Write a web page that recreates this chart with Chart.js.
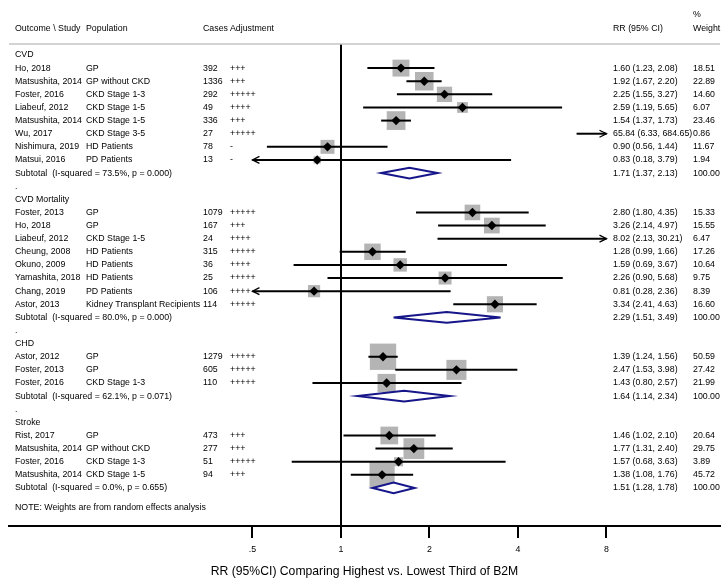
<!DOCTYPE html>
<html>
<head>
<meta charset="utf-8">
<script src="https://cdn.jsdelivr.net/npm/chart.js@4"></script>
<style>
  body { margin: 0; background: #fff; }
  canvas { display: block; }
</style>
</head>
<body>
<canvas id="forest-canvas" width="721" height="581"></canvas>
<script>
// one entry per table row: group header, study, subtotal or spacer
let rowKind = ['head','study','study','study','study','study','study','study','study','sub','gap',
               'head','study','study','study','study','study','study','study','study','sub','gap',
               'head','study','study','study','sub','gap',
               'head','study','study','study','study','sub'];
let rowLabel = ['CVD','Ho, 2018','Matsushita, 2014','Foster, 2016','Liabeuf, 2012','Matsushita, 2014','Wu, 2017','Nishimura, 2019','Matsui, 2016','Subtotal  (I-squared = 73.5%, p = 0.000)','.',
                'CVD Mortality','Foster, 2013','Ho, 2018','Liabeuf, 2012','Cheung, 2008','Okuno, 2009','Yamashita, 2018','Chang, 2019','Astor, 2013','Subtotal  (I-squared = 80.0%, p = 0.000)','.',
                'CHD','Astor, 2012','Foster, 2013','Foster, 2016','Subtotal  (I-squared = 62.1%, p = 0.071)','.',
                'Stroke','Rist, 2017','Matsushita, 2014','Foster, 2016','Matsushita, 2014','Subtotal  (I-squared = 0.0%, p = 0.655)'];
let population = ['','GP','GP without CKD','CKD Stage 1-3','CKD Stage 1-5','CKD Stage 1-5','CKD Stage 3-5','HD Patients','PD Patients','','',
                  '','GP','GP','CKD Stage 1-5','HD Patients','HD Patients','HD Patients','PD Patients','Kidney Transplant Recipients','','',
                  '','GP','GP','CKD Stage 1-3','','',
                  '','GP','GP without CKD','CKD Stage 1-3','CKD Stage 1-5',''];
let cases = ['','392','1336','292','49','336','27','78','13','','',
             '','1079','167','24','315','36','25','106','114','','',
             '','1279','605','110','','',
             '','473','277','51','94',''];
let adjustment = ['','+++','+++','+++++','++++','+++','+++++','-','-','','',
                  '','+++++','+++','++++','+++++','++++','+++++','++++','+++++','','',
                  '','+++++','+++++','+++++','','',
                  '','+++','+++','+++++','+++',''];
let rr = [null,1.60,1.92,2.25,2.59,1.54,65.84,0.90,0.83,1.71,null,
          null,2.80,3.26,8.02,1.28,1.59,2.26,0.81,3.34,2.29,null,
          null,1.39,2.47,1.43,1.64,null,
          null,1.46,1.77,1.57,1.38,1.51];
let lower = [null,1.23,1.67,1.55,1.19,1.37,6.33,0.56,0.18,1.37,null,
             null,1.80,2.14,2.13,0.99,0.69,0.90,0.28,2.41,1.51,null,
             null,1.24,1.53,0.80,1.14,null,
             null,1.02,1.31,0.68,1.08,1.28];
let upper = [null,2.08,2.20,3.27,5.65,1.73,684.65,1.44,3.79,2.13,null,
             null,4.35,4.97,30.21,1.66,3.67,5.68,2.36,4.63,3.49,null,
             null,1.56,3.98,2.57,2.34,null,
             null,2.10,2.40,3.63,1.76,1.78];
let weight = [null,18.51,22.89,14.60,6.07,23.46,0.86,11.67,1.94,100.00,null,
              null,15.33,15.55,6.47,17.26,10.64,9.75,8.39,16.60,100.00,null,
              null,50.59,27.42,21.99,100.00,null,
              null,20.64,29.75,3.89,45.72,100.00];
let note = 'NOTE: Weights are from random effects analysis';

let xTicks      = [0.5, 1, 2, 4, 8];
let xTickLabels = ['.5', '1', '2', '4', '8'];
let ciRange     = [0.5, 8];          // CIs are clipped (with arrows) to this range
let xTitle      = 'RR (95%CI) Comparing Highest vs. Lowest Third of B2M';

let FONT = '"Liberation Sans", Arial, Helvetica, sans-serif';
let NAVY = '#16168a';

// markers for studies whose estimate lies inside the plotted range
let boxPoints = [], boxRadius = [], dotPoints = [];
rowKind.forEach((k, i) => {
  if (k !== 'study') return;
  if (rr[i] < ciRange[0] || rr[i] > ciRange[1]) return;
  let side = 2.5 + 3.35 * Math.sqrt(weight[i]);
  boxPoints.push({x: rr[i], y: i});
  boxRadius.push(side / Math.SQRT2);
  dotPoints.push({x: rr[i], y: i});
});

function fmt(v) { return v.toFixed(2); }

let forestPlugin = {
  id: 'forest',
  afterDatasetDraw(chart, args) {
    if (args.index !== 0) return;
    // confidence intervals, drawn over the weight boxes
    let ctx = chart.ctx, xs = chart.scales.x, ys = chart.scales.y;
    ctx.save();
    ctx.strokeStyle = '#000';
    rowKind.forEach((k, i) => {
      if (k !== 'study') return;
      let y = ys.getPixelForValue(i);
      let x1 = xs.getPixelForValue(Math.max(lower[i], ciRange[0]));
      let x2 = xs.getPixelForValue(Math.min(upper[i], ciRange[1]));
      ctx.lineWidth = 2;
      ctx.beginPath(); ctx.moveTo(x1, y); ctx.lineTo(x2, y); ctx.stroke();
      ctx.lineWidth = 1.3;
      if (lower[i] < ciRange[0]) {
        ctx.beginPath(); ctx.moveTo(x1 + 7, y - 3.5); ctx.lineTo(x1, y); ctx.lineTo(x1 + 7, y + 3.5); ctx.stroke();
      }
      if (upper[i] > ciRange[1]) {
        ctx.beginPath(); ctx.moveTo(x2 - 7, y - 3.5); ctx.lineTo(x2, y); ctx.lineTo(x2 - 7, y + 3.5); ctx.stroke();
      }
    });
    ctx.restore();
  },
  afterDatasetsDraw(chart) {
    // pooled estimates as hollow diamonds
    let ctx = chart.ctx, xs = chart.scales.x, ys = chart.scales.y;
    ctx.save();
    ctx.strokeStyle = NAVY;
    ctx.fillStyle = '#fff';
    ctx.lineWidth = 2;
    ctx.lineJoin = 'miter';
    rowKind.forEach((k, i) => {
      if (k !== 'sub') return;
      let y = ys.getPixelForValue(i);
      let xl = xs.getPixelForValue(lower[i]);
      let xm = xs.getPixelForValue(rr[i]);
      let xh = xs.getPixelForValue(upper[i]);
      ctx.beginPath();
      ctx.moveTo(xl, y); ctx.lineTo(xm, y - 5.3); ctx.lineTo(xh, y); ctx.lineTo(xm, y + 5.3);
      ctx.closePath();
      ctx.fill(); ctx.stroke();
    });
    ctx.restore();
  },
  afterDraw(chart) {
    let ctx = chart.ctx, ys = chart.scales.y, area = chart.chartArea;
    ctx.save();
    // header rule
    ctx.strokeStyle = '#c4c4c4';
    ctx.lineWidth = 1.6;
    ctx.beginPath(); ctx.moveTo(area.left, area.top); ctx.lineTo(area.right, area.top); ctx.stroke();

    ctx.fillStyle = '#000';
    ctx.font = '8.8px ' + FONT;
    ctx.textBaseline = 'middle';
    ctx.textAlign = 'left';
    let hy = ys.getPixelForValue(-2);
    ctx.fillText('Outcome \\ Study', 15, hy);
    ctx.fillText('Population', 86, hy);
    ctx.fillText('Cases', 203, hy);
    ctx.fillText('Adjustment', 230, hy);
    ctx.fillText('RR (95% CI)', 613, hy);
    ctx.fillText('Weight', 693, hy);
    ctx.fillText('%', 693, ys.getPixelForValue(-3.07));

    rowKind.forEach((k, i) => {
      let y = ys.getPixelForValue(i);
      ctx.fillText(rowLabel[i], 15, y);
      if (k === 'study') {
        ctx.fillText(population[i], 86, y);
        ctx.fillText(cases[i], 203, y);
        ctx.fillText(adjustment[i], 230, y);
      }
      if (k === 'study' || k === 'sub') {
        ctx.fillText(fmt(rr[i]) + ' (' + fmt(lower[i]) + ', ' + fmt(upper[i]) + ')', 613, y);
        ctx.fillText(fmt(weight[i]), 693, y);
      }
    });
    ctx.fillText(note, 15, ys.getPixelForValue(rowKind.length + 0.5));
    ctx.restore();
  }
};

let ctx = document.getElementById('forest-canvas').getContext('2d');
window.forest = new Chart(ctx, {
  type: 'scatter',
  data: {
    datasets: [
      {
        label: 'weight',
        data: boxPoints,
        pointStyle: 'rect',
        pointRadius: boxRadius,
        backgroundColor: '#b4b4b4',
        borderWidth: 0,
        order: 2
      },
      {
        label: 'estimate',
        data: dotPoints,
        pointStyle: 'rectRot',
        pointRadius: 4.7,
        backgroundColor: '#000',
        borderWidth: 0,
        order: 1
      }
    ]
  },
  options: {
    responsive: false,
    animation: false,
    devicePixelRatio: 1,
    layout: { autoPadding: false, padding: { left: 9, right: 1, top: 44, bottom: 0 } },
    plugins: {
      legend: { display: false },
      tooltip: { enabled: false }
    },
    scales: {
      x: {
        type: 'logarithmic',
        position: 'bottom',
        min: 0.0743,
        max: 19.46,
        bounds: 'data',
        afterBuildTicks: (s) => { s.ticks = xTicks.map(v => ({value: v})); },
        afterFit: (s) => { s.height = 55; },
        grid: {
          drawOnChartArea: true,
          color: (c) => (c.tick && c.tick.value === 1) ? '#000' : 'rgba(0,0,0,0)',
          lineWidth: 2,
          tickColor: '#000',
          tickLength: 12,
          tickWidth: 2
        },
        border: { display: true, color: '#000', width: 2 },
        ticks: {
          autoSkip: false,
          maxRotation: 0,
          padding: 6,
          color: '#000',
          font: { family: FONT, size: 8.8 },
          callback: (v, i) => xTickLabels[i]
        },
        title: {
          display: true,
          text: xTitle,
          color: '#000',
          font: { family: FONT, size: 12.2 },
          padding: { top: 0, bottom: 2 }
        }
      },
      y: {
        type: 'linear',
        display: false,
        reverse: true,
        min: -0.838,
        max: 35.9,
        bounds: 'data'
      }
    }
  },
  plugins: [forestPlugin]
});
</script>
</body>
</html>
